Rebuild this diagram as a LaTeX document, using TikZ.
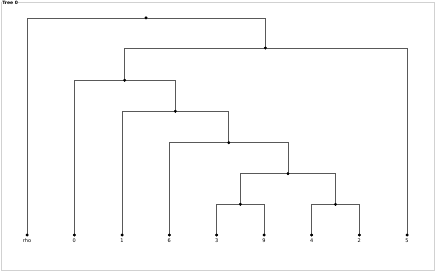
\documentclass[tikz,border=0pt]{standalone}
\usepackage{fontspec}
\setmainfont{DejaVu Sans}
\begin{document}
\begin{tikzpicture}[x=1pt,y=-1pt,
  dot/.style={circle,fill=black,inner sep=0pt,minimum size=3pt},
  lab/.style={font=\fontsize{5}{6}\selectfont,inner sep=0pt},
  edge/.style={draw=black!65,line width=0.75pt},
  frame/.style={draw=black!18,line width=0.8pt}]
\useasboundingbox (0,0) rectangle (436,272);
\draw[frame] (1,2) rectangle (434.5,270.5);
\node[font=\bfseries\fontsize{4.5}{5}\selectfont,fill=white,inner sep=0.6pt,anchor=north west] (title) at (1.5,0.8) {Tree 0};
% leaves
\node[dot] (rho) at (27,235) {};
\node[dot] (l0) at (74.3,235) {};
\node[dot] (l1) at (122,235) {};
\node[dot] (l6) at (169.3,235) {};
\node[dot] (l3) at (216.7,235) {};
\node[dot] (l9) at (264,235) {};
\node[dot] (l4) at (311.7,235) {};
\node[dot] (l2) at (359.3,235) {};
\node[dot] (l5) at (407,235) {};
% internal
\node[dot] (root) at (146,18) {};
\node[dot] (A) at (265.3,48) {};
\node[dot] (B) at (124.7,80.3) {};
\node[dot] (C) at (175.3,111.3) {};
\node[dot] (D) at (228.7,142.7) {};
\node[dot] (E) at (288,173.7) {};
\node[dot] (F) at (240.3,204.3) {};
\node[dot] (G) at (335.5,204.3) {};
% edges
\draw[edge] (root.center) -| (rho.center);
\draw[edge] (root.center) -| (A.center);
\draw[edge] (A.center) -| (B.center);
\draw[edge] (A.center) -| (l5.center);
\draw[edge] (B.center) -| (l0.center);
\draw[edge] (B.center) -| (C.center);
\draw[edge] (C.center) -| (l1.center);
\draw[edge] (C.center) -| (D.center);
\draw[edge] (D.center) -| (l6.center);
\draw[edge] (D.center) -| (E.center);
\draw[edge] (E.center) -| (F.center);
\draw[edge] (E.center) -| (G.center);
\draw[edge] (F.center) -| (l3.center);
\draw[edge] (F.center) -| (l9.center);
\draw[edge] (G.center) -| (l4.center);
\draw[edge] (G.center) -| (l2.center);
% redraw dots on top
\foreach \n in {rho,l0,l1,l6,l3,l9,l4,l2,l5,root,A,B,C,D,E,F,G}
  \fill (\n) circle (1.5pt);
% labels
\node[lab] (trho) at (27,241) {rho};
\node[lab] (t0) at (74.3,241) {0};
\node[lab] (t1) at (122,241) {1};
\node[lab] (t6) at (169.3,241) {6};
\node[lab] (t3) at (216.7,241) {3};
\node[lab] (t9) at (264,241) {9};
\node[lab] (t4) at (311.7,241) {4};
\node[lab] (t2) at (359.3,241) {2};
\node[lab] (t5) at (407,241) {5};
\end{tikzpicture}
\end{document}
